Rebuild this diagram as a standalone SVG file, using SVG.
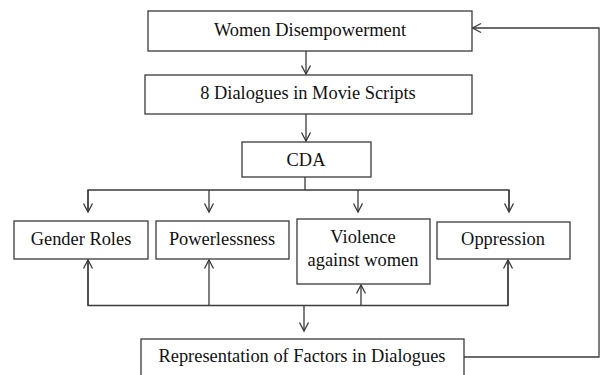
<svg xmlns="http://www.w3.org/2000/svg" width="601" height="375" viewBox="0 0 601 375">
<style>
.box{fill:#fff;stroke:#3a3a3a;stroke-width:1.3}
.t{font-family:'Liberation Serif','Times New Roman',serif;font-size:18.4px;fill:#111;text-anchor:middle}
.c{fill:none;stroke:#3a3a3a;stroke-width:1.3}
</style>
<defs>
<marker id="ah" markerUnits="userSpaceOnUse" markerWidth="12" markerHeight="12" viewBox="-10 -6 12 12" refX="0" refY="0" orient="auto">
<path d="M-8.5,-4.5 L0,0 L-8.5,4.5" fill="none" stroke="#3a3a3a" stroke-width="1.3"/>
</marker>
</defs>
<rect width="601" height="375" fill="#fff"/>
<g id="connectors">
<line class="c" x1="306" y1="51" x2="306" y2="74" marker-end="url(#ah)"/>
<line class="c" x1="306" y1="114" x2="306" y2="141" marker-end="url(#ah)"/>
<line class="c" x1="305" y1="177" x2="305" y2="190"/>
<polyline class="c" points="88,212 88,190 509,190 509,212"/>
<line class="c" x1="88" y1="190" x2="88" y2="212" marker-end="url(#ah)"/>
<line class="c" x1="209" y1="190" x2="209" y2="212" marker-end="url(#ah)"/>
<line class="c" x1="358" y1="190" x2="358" y2="212" marker-end="url(#ah)"/>
<line class="c" x1="509" y1="190" x2="509" y2="212" marker-end="url(#ah)"/>
<polyline class="c" points="88,260 88,305.5 508,305.5 508,260"/>
<line class="c" x1="88" y1="305.5" x2="88" y2="260" marker-end="url(#ah)"/>
<line class="c" x1="209" y1="305.5" x2="209" y2="260" marker-end="url(#ah)"/>
<line class="c" x1="361" y1="305.5" x2="361" y2="285" marker-end="url(#ah)"/>
<line class="c" x1="508" y1="305.5" x2="508" y2="260" marker-end="url(#ah)"/>
<line class="c" x1="304" y1="305.5" x2="304" y2="331" marker-end="url(#ah)"/>
<polyline class="c" points="464,357 599,357 599,28 472.5,28" marker-end="url(#ah)"/>
</g>
<g id="women-disempowerment">
<rect class="box" x="148" y="11" width="324" height="40"/>
<text class="t" x="310" y="36">Women Disempowerment</text>
</g>
<g id="dialogues">
<rect class="box" x="145" y="75" width="327" height="39"/>
<text class="t" x="308" y="99">8 Dialogues in Movie Scripts</text>
</g>
<g id="cda">
<rect class="box" x="242" y="142" width="129" height="35"/>
<text class="t" x="306" y="166">CDA</text>
</g>
<g id="gender-roles">
<rect class="box" x="14" y="221" width="134" height="38"/>
<text class="t" x="81" y="245">Gender Roles</text>
</g>
<g id="powerlessness">
<rect class="box" x="156" y="221" width="133" height="38"/>
<text class="t" x="222" y="245">Powerlessness</text>
</g>
<g id="violence">
<rect class="box" x="297" y="219" width="133" height="65"/>
<text class="t" x="363" y="243">Violence</text>
<text class="t" x="363" y="266">against women</text>
</g>
<g id="oppression">
<rect class="box" x="437" y="222" width="133" height="37"/>
<text class="t" x="503" y="245">Oppression</text>
</g>
<g id="representation">
<rect class="box" x="141" y="339" width="323" height="40"/>
<text class="t" x="302" y="362">Representation of Factors in Dialogues</text>
</g>
</svg>
